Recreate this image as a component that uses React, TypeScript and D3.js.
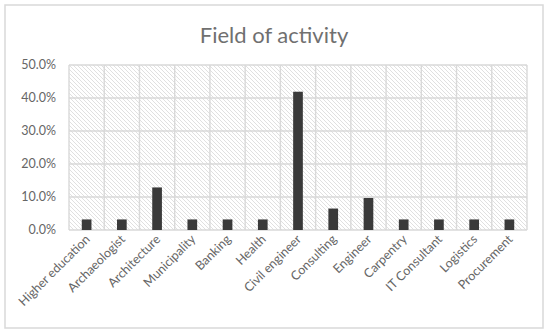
import React from "react";
import * as d3 from "d3";

const categories = [
  "Higher education",
  "Archaeologist",
  "Architecture",
  "Municipality",
  "Banking",
  "Health",
  "Civil engineer",
  "Consulting",
  "Engineer",
  "Carpentry",
  "IT Consultant",
  "Logistics",
  "Procurement",
];
const values = [0.032, 0.032, 0.129, 0.032, 0.032, 0.032, 0.419, 0.065, 0.097, 0.032, 0.032, 0.032, 0.032];
const yTicks = [0, 0.1, 0.2, 0.3, 0.4, 0.5];
const title = "Field of activity";

const W = 550;
const H = 334;
const FONT = "Lato, 'Open Sans', sans-serif";
const TEXT = "#666666";
const GRID = "#d9d9d9";

const Formatter = d3.format(".1%");

export default function App() {
  const plot = { left: 69, right: 527, top: 65, bottom: 230 };
  const X = d3.scaleBand<string>().domain(categories).range([plot.left, plot.right]);
  const Y = d3.scaleLinear().domain([0, 0.5]).range([plot.bottom, plot.top]);
  const barW = X.bandwidth() * 0.275;

  return (
    <svg
      width={W}
      height={H}
      style={{ position: "absolute", left: 0, top: 0, background: "#fff" }}
      fontFamily={FONT}
    >
      <defs>
        <pattern id="hatch" width="4" height="4" patternUnits="userSpaceOnUse">
          <path d="M-1,-1 L5,5 M3,-1 L5,1 M-1,3 L1,5" stroke="#dcdcdc" strokeWidth="0.9" />
        </pattern>
      </defs>
      <rect x={5} y={5} width={538} height={323} fill="#fff" stroke={GRID} strokeWidth={1.5} />
      <text x={274} y={43} textAnchor="middle" fontSize={22} fill="#707070">
        {title}
      </text>

      <rect
        x={plot.left}
        y={plot.top}
        width={plot.right - plot.left}
        height={plot.bottom - plot.top}
        fill="url(#hatch)"
      />

      {/* grid */}
      {yTicks.map((t) => (
        <line
          key={"h" + t}
          x1={plot.left}
          x2={plot.right}
          y1={Y(t)}
          y2={Y(t)}
          stroke={GRID}
          strokeWidth={1.4}
        />
      ))}
      {categories.map((c) => (
        <line
          key={"v" + c}
          x1={X(c)}
          x2={X(c)}
          y1={plot.top}
          y2={plot.bottom}
          stroke={GRID}
          strokeWidth={1.4}
        />
      ))}
      <line
        x1={plot.right}
        x2={plot.right}
        y1={plot.top}
        y2={plot.bottom}
        stroke={GRID}
        strokeWidth={1.4}
      />

      {/* y labels */}
      {yTicks.map((t) => (
        <text
          key={"yl" + t}
          x={56}
          y={Y(t)}
          dy="0.35em"
          textAnchor="end"
          fontSize={12.5}
          fill={TEXT}
        >
          {Formatter(t)}
        </text>
      ))}

      {/* bars */}
      {categories.map((c, i) => (
        <rect
          key={"b" + c}
          x={X(c)! + X.bandwidth() / 2 - barW / 2}
          y={Y(values[i])}
          width={barW}
          height={Y(0) - Y(values[i])}
          fill="#3a3a3a"
        />
      ))}

      {/* x labels */}
      {categories.map((c) => {
        const cx = X(c)! + X.bandwidth() / 2 + 4;
        const cy = plot.bottom + 10;
        return (
          <text
            key={"xl" + c}
            transform={`translate(${cx},${cy}) rotate(-45)`}
            textAnchor="end"
            fontSize={12.5}
            fill={TEXT}
          >
            {c}
          </text>
        );
      })}
    </svg>
  );
}
